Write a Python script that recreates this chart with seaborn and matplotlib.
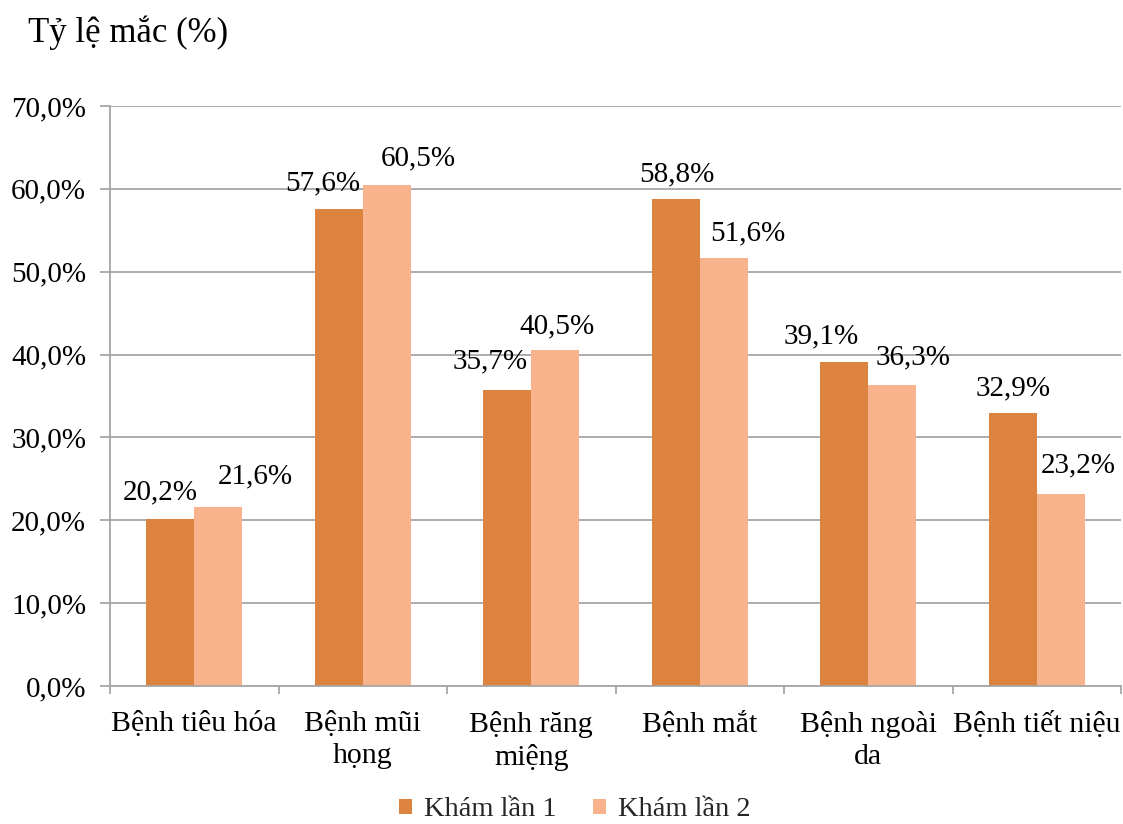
import matplotlib
matplotlib.use("Agg")
import matplotlib.pyplot as plt
import seaborn as sns
import pandas as pd
from matplotlib.ticker import FuncFormatter, FixedLocator

# Data
categories = ["Bệnh tiêu hóa", "Bệnh mũi\nhọng", "Bệnh răng\nmiệng",
              "Bệnh mắt", "Bệnh ngoài\nda", "Bệnh tiết niệu"]
series = ["Khám lần 1", "Khám lần 2"]
kham_lan_1 = [20.2, 57.6, 35.7, 58.8, 39.1, 32.9]
kham_lan_2 = [21.6, 60.5, 40.5, 51.6, 36.3, 23.2]
y_ticks = [0, 10, 20, 30, 40, 50, 60, 70]

# Styling
colors = ["#DB833F", "#F8B38D"]
grid_color = "#A6A6A6"
# per-label nudges (pixels) for the value labels of each series
label_dx = [[-10, -16, -17, 1, -23, 0], [37, 32, 2, 24, 21, 17]]
label_dy = [[29, 28, 32, 27, 29, 28], [34, 29, 27, 28, 31, 31]]

sns.set_theme(style="white")
plt.rcParams["font.family"] = ["Liberation Serif", "DejaVu Serif"]

df = pd.DataFrame({
    "category": categories * 2,
    "series": [series[0]] * len(categories) + [series[1]] * len(categories),
    "value": kham_lan_1 + kham_lan_2,
})

W, H = 1123, 824
fig = plt.figure(figsize=(W / 100, H / 100), dpi=100)
ax = fig.add_axes([110 / W, 1 - 686 / H, (1121 - 110) / W, (686 - 106) / H])

sns.barplot(data=df, x="category", y="value", hue="series",
            order=categories, hue_order=series, palette=colors,
            saturation=1, width=0.57, linewidth=0, edgecolor="none",
            ax=ax)

# Value labels
def pct(v):
    return f"{v:.1f}%".replace(".", ",")

for s_idx, (container, values) in enumerate(zip(ax.containers, [kham_lan_1, kham_lan_2])):
    for i, (bar, v) in enumerate(zip(container, values)):
        cx = bar.get_x() + bar.get_width() / 2
        ax.annotate(pct(v), (cx, v),
                    xytext=(label_dx[s_idx][i], label_dy[s_idx][i] - 10),
                    textcoords="offset pixels", ha="center", va="baseline",
                    fontsize=21, color="#000000", annotation_clip=False)

# Axes
ax.set_ylim(0, 70)
ax.set_xlim(-0.5, len(categories) - 0.5)
ax.set_yticks(y_ticks)
ax.yaxis.set_major_formatter(FuncFormatter(lambda v, _: pct(v)))
ax.set_xlabel("")
ax.set_ylabel("")

ax.yaxis.grid(True, color=grid_color, linewidth=1.3)
ax.set_axisbelow(True)
for side in ["top", "right"]:
    ax.spines[side].set_visible(False)
for side in ["left", "bottom"]:
    ax.spines[side].set_color(grid_color)
    ax.spines[side].set_linewidth(1.3)

ax.xaxis.set_minor_locator(FixedLocator([k - 0.5 for k in range(len(categories) + 1)]))
ax.tick_params(axis="x", which="major", length=0, pad=18, labelsize=21.5,
               labelcolor="#000000")
ax.tick_params(axis="x", which="minor", length=6, width=1.3, color=grid_color,
               direction="out", bottom=True)
ax.tick_params(axis="y", which="major", length=7.2, width=1.3, color=grid_color,
               direction="out", left=True, pad=10, labelsize=21,
               labelcolor="#000000")
for lbl in ax.get_xticklabels():
    lbl.set_linespacing(1.28)

# Legend
handles, labels = ax.get_legend_handles_labels()
ax.get_legend().remove()
fig.legend(handles, labels, loc="center", bbox_to_anchor=(575 / W, 1 - 810 / H),
           ncol=2, frameon=False, fontsize=20.5, handlelength=0.43,
           handleheight=0.43, handletextpad=0.43, columnspacing=1.3)

# Axis title
fig.text(28 / W, 1 - 42 / H, "Tỷ lệ mắc (%)", fontsize=25, ha="left",
         va="baseline", color="#000000")

fig.savefig("out.png", dpi=100)
